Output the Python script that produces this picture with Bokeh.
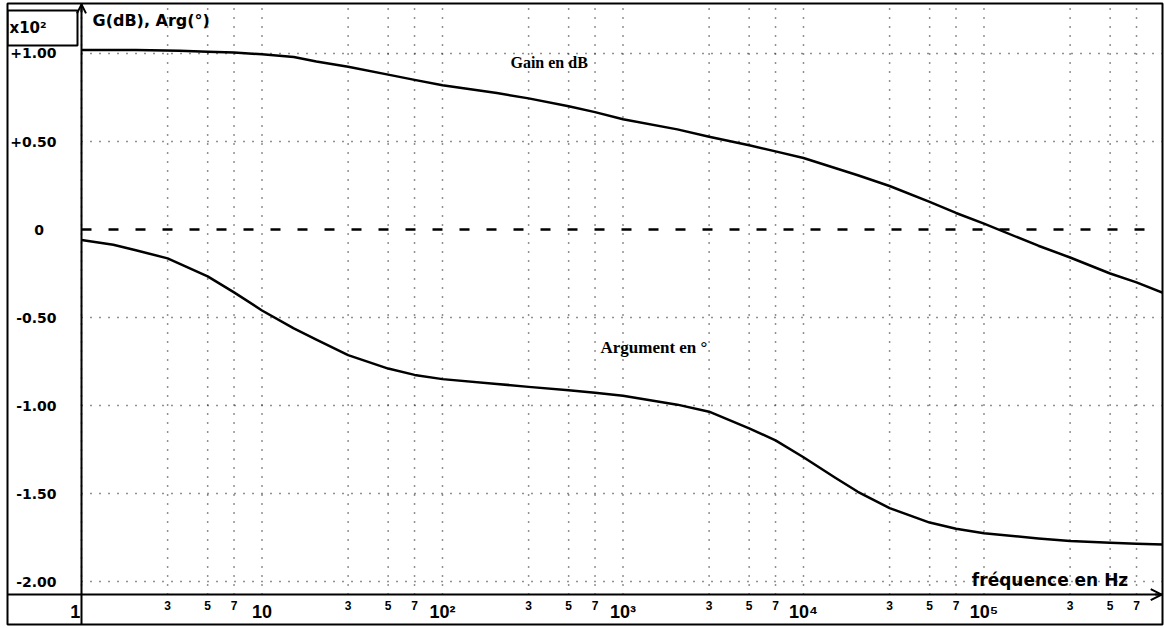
from bokeh.plotting import figure
from bokeh.models import (FixedTicker, LogAxis, Label, BoxAnnotation, Arrow,
                          OpenHead, Range1d)
from bokeh.embed import file_html
from bokeh.resources import INLINE

# ---------------- data ----------------
freq_gain = [1, 2, 3.5, 5, 7, 10, 15, 20, 30, 50, 70, 100, 200, 300, 500, 700,
             1000, 2000, 3000, 5000, 7000, 1e4, 2e4, 3e4, 5e4, 7e4, 1e5, 2e5,
             3e5, 5e5, 7e5, 9.8e5]
gain = [1.02, 1.02, 1.015, 1.01, 1.005, 0.995, 0.98, 0.955, 0.925, 0.88, 0.85,
        0.82, 0.775, 0.745, 0.70, 0.667, 0.626, 0.569, 0.527, 0.479, 0.444,
        0.406, 0.308, 0.247, 0.157, 0.094, 0.033, -0.092, -0.159, -0.25,
        -0.30, -0.36]

freq_arg = [1, 1.5, 2, 3, 5, 7, 10, 15, 20, 30, 50, 70, 100, 200, 300, 500,
            700, 1000, 2000, 3000, 5000, 7000, 1e4, 1.5e4, 2e4, 3e4, 5e4, 7e4,
            1e5, 2e5, 3e5, 5e5, 7e5, 9.8e5]
arg = [-0.06, -0.087, -0.118, -0.164, -0.266, -0.357, -0.46, -0.562, -0.625,
       -0.714, -0.79, -0.826, -0.85, -0.877, -0.894, -0.913, -0.928, -0.944,
       -0.995, -1.035, -1.13, -1.198, -1.294, -1.41, -1.49, -1.583, -1.665,
       -1.70, -1.725, -1.755, -1.77, -1.78, -1.785, -1.79]

zero_freq = [1, 8e5]
zero_level = [0, 0]

# visible window: label column to the left of 1 Hz, label row under the x axis
x_left, x_origin, x_right = 10 ** -0.41, 1.0, 10 ** 5.989
y_bottom, y_axis_at, y_top = -2.244, -2.074, 1.284

y_ticks = [1.0, 0.5, 0.0, -0.5, -1.0, -1.5, -2.0]
y_tick_labels = ["+1.00", "+0.50", "0\u2002\u2009\u2009", "-0.50", "-1.00",
                 "-1.50", "-2.00"]
decades = [1, 10, 100, 1000, 1e4, 1e5]
decade_labels = ["1\u2002\u2009", "10", "10\u00b2", "10\u00b3", "10\u2074",
                 "10\u2075"]
sub_mult = [3, 5, 7]
sub_ticks = [m * d for d in decades for m in sub_mult]
sub_labels = [str(m) for d in decades for m in sub_mult]
grid_x = [m * d for d in decades for m in [1, 3, 5, 7]]
grid_y = [1.0, 0.5, -0.5, -1.0, -1.5, -2.0]

# ---------------- figure ----------------
W, H = 1164, 628
p = figure(width=W, height=H, x_axis_type="log",
           x_range=Range1d(x_left, x_right), y_range=Range1d(y_bottom, y_top),
           output_backend="svg", toolbar_location=None,
           min_border_left=7, min_border_right=2, min_border_top=3,
           min_border_bottom=4)
p.background_fill_color = "white"
p.border_fill_color = "white"
p.outline_line_color = "black"
p.outline_line_width = 2
p.outline_line_alpha = 1
p.xgrid.visible = False
p.ygrid.visible = False

# dotted grid, limited to the plotting area
p.multi_line(xs=[[gx, gx] for gx in grid_x],
             ys=[[y_axis_at, y_top] for _ in grid_x],
             line_color="#222222", line_width=1.5, line_dash="1 8")
p.multi_line(xs=[[x_origin, x_right] for _ in grid_y],
             ys=[[gy, gy] for gy in grid_y],
             line_color="#222222", line_width=1.5, line_dash="1 8")

# y axis, drawn at 1 Hz
ya = p.yaxis[0]
ya.fixed_location = x_origin
ya.ticker = FixedTicker(ticks=y_ticks, minor_ticks=[])
ya.major_label_overrides = dict(zip(y_ticks, y_tick_labels))
ya.major_tick_out = 0
ya.major_tick_in = 0
ya.minor_tick_in = 0
ya.minor_tick_out = 0
ya.axis_line_width = 2
ya.axis_line_color = "black"
ya.major_label_standoff = 25
ya.major_label_text_font = "DejaVu Sans"
ya.major_label_text_font_style = "bold"
ya.major_label_text_font_size = "14px"
ya.major_label_text_color = "black"

# x axis with the 3 / 5 / 7 labels
xa = p.xaxis[0]
xa.fixed_location = y_axis_at
xa.ticker = FixedTicker(ticks=sub_ticks, minor_ticks=[])
xa.major_label_overrides = dict(zip(sub_ticks, sub_labels))
xa.major_tick_out = 0
xa.major_tick_in = 0
xa.minor_tick_in = 0
xa.minor_tick_out = 0
xa.axis_line_width = 2
xa.axis_line_color = "black"
xa.major_label_standoff = 6
xa.major_label_text_font = "Liberation Sans"
xa.major_label_text_font_style = "bold"
xa.major_label_text_font_size = "12px"
xa.major_label_text_color = "black"

# decade labels
xb = LogAxis(ticker=FixedTicker(ticks=decades, minor_ticks=[]))
xb.fixed_location = y_axis_at
xb.major_label_overrides = dict(zip(decades, decade_labels))
xb.axis_line_color = None
xb.major_tick_line_color = None
xb.minor_tick_line_color = None
xb.major_label_standoff = 1
xb.major_label_text_font = "Liberation Sans"
xb.major_label_text_font_style = "bold"
xb.major_label_text_font_size = "18px"
xb.major_label_text_color = "black"
p.add_layout(xb, "below")

# curves
p.line(zero_freq, zero_level, line_color="black", line_width=2.5,
       line_dash="10 17")
p.line(freq_gain, gain, line_color="black", line_width=2.5, line_join="round")
p.line(freq_arg, arg, line_color="black", line_width=2.5, line_join="round")

# scale factor box in the label column
p.add_layout(BoxAnnotation(left=None, right=10 ** (-4 / 180.5), top=1.244,
                           bottom=1.045, fill_color=None, fill_alpha=0,
                           line_color="black", line_alpha=1, line_width=2))
p.add_layout(Label(x=x_left, y=1.145, x_offset=2, text="x10\u00b2",
                   text_baseline="middle",
                   text_font="DejaVu Sans", text_font_style="bold",
                   text_font_size="15px", text_color="black"))

# arrows at the ends of the axes
p.add_layout(Arrow(end=OpenHead(size=9, line_width=2, line_color="black"),
                   x_start=x_origin, y_start=y_top - 0.05, x_end=x_origin,
                   y_end=y_top - 0.005, line_color="black", line_width=2))
p.add_layout(Arrow(end=OpenHead(size=11, line_width=2, line_color="black"),
                   x_start=x_right / 1.1, y_start=y_axis_at,
                   x_end=x_right / 1.01, y_end=y_axis_at,
                   line_color="black", line_width=2))

# texts
p.add_layout(Label(x=x_origin, y=y_top, x_offset=11, y_offset=-7,
                   text="G(dB), Arg(\u00b0)", text_baseline="top",
                   text_font="DejaVu Sans", text_font_style="bold",
                   text_font_size="16px", text_color="black"))
p.add_layout(Label(x=238, y=0.95, text="Gain en dB", text_baseline="middle",
                   text_font="Liberation Serif", text_font_style="bold",
                   text_font_size="16px", text_color="black"))
p.add_layout(Label(x=750, y=-0.67, text="Argument en \u00b0",
                   text_baseline="middle",
                   text_font="Liberation Serif", text_font_style="bold",
                   text_font_size="17px", text_color="black"))
p.add_layout(Label(x=6.3e5, y=-1.99, text="fr\u00e9quence en Hz",
                   text_baseline="middle", text_align="right",
                   text_font="DejaVu Sans", text_font_style="bold",
                   text_font_size="17px", text_color="black"))

open("out.html", "w").write(file_html(p, INLINE))
